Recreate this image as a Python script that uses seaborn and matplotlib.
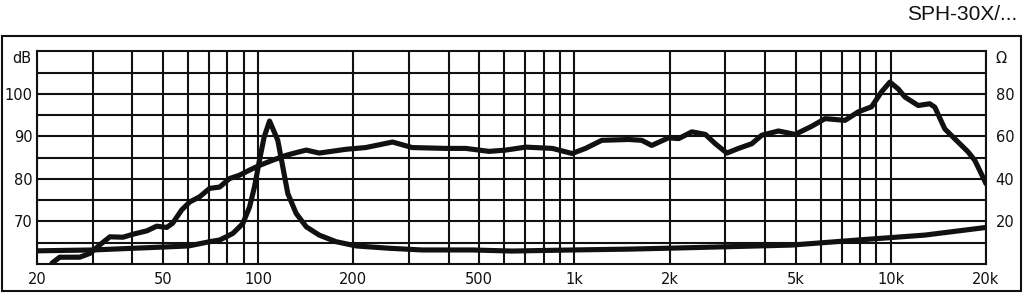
import matplotlib
matplotlib.use("Agg")
import matplotlib.pyplot as plt
from matplotlib.patches import Rectangle
import seaborn as sns

# SPL response (Hz, dB)
spl_freq = [22.3, 23.6, 27.3, 29.4, 31.6, 34.0, 37.4, 40.2, 44.5, 47.8, 51.4, 53.7,
            57.3, 60.8, 65.3, 70.3, 75.6, 81.2, 87.4, 94.0, 101, 111, 123, 135, 142,
            156, 190, 219, 266, 307, 392, 453, 537, 606, 701, 851, 983, 1084, 1220,
            1485, 1632, 1755, 1985, 2135, 2351, 2592, 2788, 3033, 3302, 3636, 3910,
            4414, 4983, 5623, 6198, 7166, 7893, 8697, 9349, 9936, 10555, 11080,
            12205, 13288, 13780, 14815, 16320, 17545, 18430, 19080, 20000]
spl_db = [60.2, 61.6, 61.6, 62.5, 64.5, 66.4, 66.3, 67.0, 67.8, 68.9, 68.6, 69.6,
          72.7, 74.6, 75.8, 77.8, 78.1, 80.1, 80.9, 82.1, 83.2, 84.4, 85.6, 86.4, 86.8,
          86.1, 87.0, 87.4, 88.7, 87.4, 87.2, 87.2, 86.5, 86.8, 87.5, 87.2, 86.0, 87.2,
          89.1, 89.3, 89.1, 87.9, 89.7, 89.5, 91.1, 90.5, 88.3, 86.1, 87.2, 88.3, 90.3,
          91.3, 90.5, 92.4, 94.2, 93.8, 95.8, 97.0, 100.5, 102.8, 101.2, 99.3,
          97.3, 97.7, 96.9, 91.8, 88.7, 86.4, 84.4, 82.1, 78.9]

# Impedance (Hz, Ohm)
imp_freq = [20, 30, 40.2, 50.5, 60.3, 70.3, 75.6, 79.3, 83.2, 87.4, 89.5, 94.0,
            97.4, 101, 104.5, 108.7, 115.4, 119.7, 124.1, 131.9, 142, 156, 176.4,
            204, 260, 330, 475, 635, 981, 1485, 1943, 2997, 4852, 7893, 12810, 20000]
imp_ohm = [6.2, 6.6, 7.4, 8.0, 8.5, 10.5, 11.3, 12.8, 14.4, 17.5, 19.1, 26.9,
           36.3, 48.8, 59.8, 67.3, 58.2, 45.7, 33.2, 23.8, 17.5, 13.6, 10.5,
           8.5, 7.4, 6.6, 6.6, 6.1, 6.6, 7.0, 7.4, 8.1, 8.9, 11.3, 13.6, 17.2]

x_grid = [20, 30, 40, 50, 60, 70, 80, 90, 100, 200, 300, 400, 500, 600, 700, 800, 900,
          1000, 2000, 3000, 4000, 5000, 6000, 7000, 8000, 9000, 10000, 20000]
x_tick_text = {20: "20", 50: "50", 100: "100", 200: "200", 500: "500", 1000: "1k",
               2000: "2k", 5000: "5k", 10000: "10k", 20000: "20k"}
db_grid = [65, 70, 75, 80, 85, 90, 95, 100, 105]
db_tick_text = {70: "70", 80: "80", 90: "90", 100: "100"}
ohm_ticks = [20, 40, 60, 80]

INK = "#111111"

sns.set_style("white")
plt.rcParams["font.family"] = ["DejaVu Sans"]

W, H = 1024, 293
fig = plt.figure(figsize=(W / 100, H / 100), dpi=100)
ax = fig.add_axes([37 / W, 1 - 264 / H, (986 - 37) / W, (264 - 51.5) / H])

line_kw = dict(color=INK, lw=3.7, sort=False, solid_joinstyle="round", solid_capstyle="round")
sns.lineplot(x=spl_freq, y=spl_db, ax=ax, **line_kw)
ax.set_xscale("log")
ax.set_xlim(20, 20000)
ax.set_ylim(60, 110)
ax.set_xticks(x_grid)
ax.set_xticklabels([x_tick_text.get(f, "") for f in x_grid])
ax.xaxis.set_minor_locator(matplotlib.ticker.NullLocator())
ax.set_yticks(db_grid)
ax.set_yticklabels([db_tick_text.get(v, "") for v in db_grid])
ax.grid(True, color=INK, lw=1.5)
ax.set_axisbelow(True)
ax.tick_params(axis="both", length=0, labelsize=10.5, colors=INK)
ax.tick_params(axis="x", pad=5.5)
ax.tick_params(axis="y", pad=3)
ax.set_xlabel("")
ax.set_ylabel("")
for s in ax.spines.values():
    s.set_color(INK)
    s.set_linewidth(1.5)
    s.set_visible(True)

ax2 = ax.twinx()
sns.lineplot(x=imp_freq, y=imp_ohm, ax=ax2, **line_kw)
ax2.set_ylim(0, 100)
ax2.set_xlim(20, 20000)
ax2.set_yticks(ohm_ticks)
ax2.grid(False)
ax2.tick_params(axis="y", length=0, labelsize=10.5, colors=INK, pad=7)
ax2.set_ylabel("")
for s in ax2.spines.values():
    s.set_visible(False)

fig.text(31 / W, 1 - 58 / H, "dB", ha="right", va="center", fontsize=10.5, color=INK)
fig.text(996 / W, 1 - 58 / H, "Ω", ha="left", va="center", fontsize=10.5, color=INK)
fig.text(1017 / W, 1 - 14 / H, "SPH-30X/...", ha="right", va="center", fontsize=15,
         color=INK, family=["Liberation Sans", "DejaVu Sans"])

fig.add_artist(Rectangle((1.5 / W, 1 - 291 / H), (1020.5 - 1.5) / W, (291 - 36) / H,
                         fill=False, lw=1.5, edgecolor=INK, transform=fig.transFigure))

fig.savefig("out.png", dpi=100)
